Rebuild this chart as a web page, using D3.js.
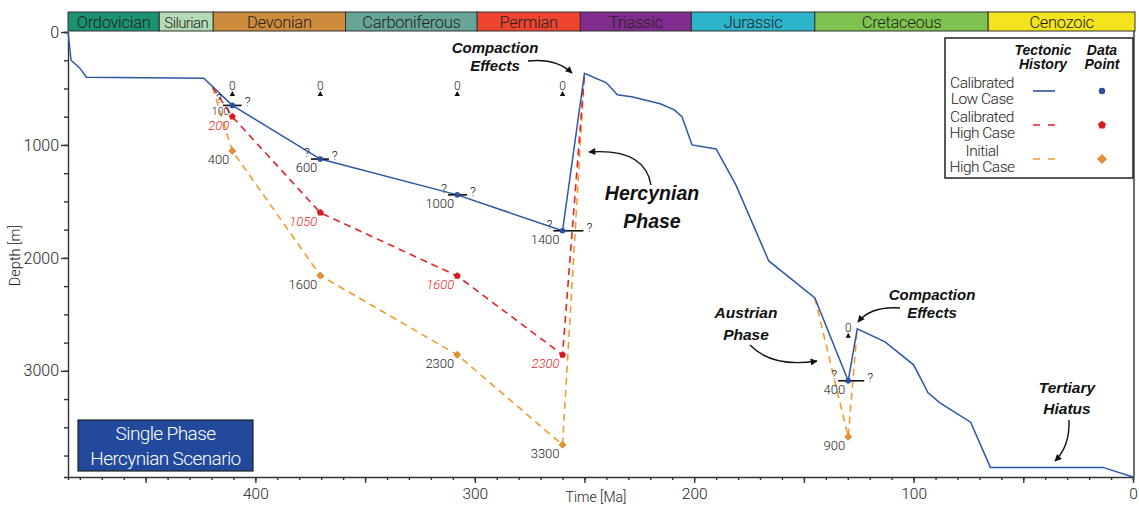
<!DOCTYPE html>
<html>
<head>
<meta charset="utf-8">
<script src="https://cdn.jsdelivr.net/npm/d3@7"></script>
<style>
    body { margin: 0; background: #fff; }
    text { font-family: Roboto, 'Liberation Sans', sans-serif; font-weight: 300; fill: #222; }
    .note { font-family: 'Liberation Sans', Arial, sans-serif; font-weight: bold; font-style: italic; fill: #111; }
</style>
</head>
<body>
<div class="canvas"></div>
<script>
// geological time scale (Ma)
const periods = ['Ordovician', 'Silurian', 'Devonian', 'Carboniferous', 'Permian', 'Triassic', 'Jurassic', 'Cretaceous', 'Cenozoic'];
const periodStart = [485.4, 443.8, 419.2, 358.9, 298.9, 251.9, 201.3, 145, 66];
const periodEnd = [443.8, 419.2, 358.9, 298.9, 251.9, 201.3, 145, 66, 0];
const periodColors = ['#1b9372', '#b4dbb5', '#cd8c3b', '#67a598', '#ee4430', '#812b8f', '#2cb4cb', '#7fc24f', '#f3e41e'];

// calibrated low case: burial history
const lowAge = [485.4, 484, 480, 477, 423.5, 410.5, 370.4, 308, 260, 250, 240, 235, 228, 215.5, 209, 205.5, 201, 190, 181, 166, 145, 129.8, 125.7, 113, 100, 93.4, 88, 74, 65, 13.7, 0];
const lowDepth = [0, 250, 320, 400, 410, 650, 1125, 1442, 1760, 365, 450, 555, 575, 636, 690, 752, 1000, 1035, 1354, 2027, 2355, 3088, 2628, 2743, 2947, 3195, 3283, 3455, 3855, 3855, 3940];

// calibrated high case (Hercynian erosion)
const highAge = [419.5, 410.5, 370.4, 308, 260, 250];
const highDepth = [490, 750, 1600, 2160, 2858, 365];

// initial high case (Hercynian + Austrian erosion)
const initAge = [419.5, 410.5, 370.4, 308, 260, 250];
const initDepth = [490, 1053, 2156, 2858, 3655, 365];
const initAustrianAge = [145, 129.8, 125.7];
const initAustrianDepth = [2355, 3584, 2628];

// data points
const lowPointAge = [410.5, 370.4, 308, 260, 129.8];
const lowPointDepth = [650, 1125, 1442, 1760, 3088];
const lowPointLabel = ['100', '600', '1000', '1400', '400'];
const errOlder = [4.3, 4.3, 4.2, 4.2, 4.6];
const errYounger = [4.3, 3.9, 4.5, 9.5, 7.3];

const highPointAge = [410.5, 370.4, 308, 260];
const highPointDepth = [750, 1600, 2160, 2858];
const highPointLabel = ['200', '1050', '1600', '2300'];

const initPointAge = [410.5, 370.4, 308, 260, 129.8];
const initPointDepth = [1053, 2156, 2858, 3655, 3584];
const initPointLabel = ['400', '1600', '2300', '3300', '900'];

// surface markers
const zeroAge = [410.5, 370.4, 308, 260, 129.8];
const zeroDepth = [566, 566, 566, 566, 2708];

const xMajor = [450, 400, 350, 300, 250, 200, 150, 100, 50, 0];
const xLabels = [400, 300, 200, 100, 0];
const yLabels = [0, 1000, 2000, 3000];

const blue = '#2c56a6', red = '#e2232a', orange = '#f29b2e';
const ink = '#222';

const svg = d3.select('.canvas')
    .append('svg')
    .attr('width', 1139)
    .attr('height', 507);

const margin = { top: 32, right: 6, bottom: 30, left: 68 };
const graphWidth = 1139 - margin.left - margin.right;
const graphHeight = 507 - margin.top - margin.bottom;

const graph = svg.append('g')
    .attr('transform', `translate(${margin.left}, ${margin.top})`);

const x = d3.scaleLinear().domain([485.4, 0]).range([0, graphWidth]);
const y = d3.scaleLinear().domain([0, 3940]).range([0, graphHeight]);

// arrow head
svg.append('defs').append('marker')
    .attr('id', 'head')
    .attr('viewBox', '0 0 10 10')
    .attr('refX', 9).attr('refY', 5)
    .attr('markerWidth', 10).attr('markerHeight', 7)
    .attr('markerUnits', 'userSpaceOnUse')
    .attr('orient', 'auto')
    .append('path')
    .attr('d', 'M0,0 L10,5 L0,10 Z')
    .attr('fill', '#111');

// period bar
const bar = graph.append('g').attr('transform', 'translate(0, -20)');
periods.forEach((p, i) => {
    const x0 = x(periodStart[i]);
    const x1 = i === periods.length - 1 ? graphWidth + 2 : x(periodEnd[i]);
    bar.append('rect')
        .attr('x', x0).attr('y', 0)
        .attr('width', x1 - x0).attr('height', 19)
        .attr('fill', periodColors[i])
        .attr('stroke', '#333').attr('stroke-width', 1);
    bar.append('text')
        .attr('x', (x0 + x1) / 2).attr('y', 15.5)
        .attr('text-anchor', 'middle')
        .attr('font-size', p === 'Silurian' ? 15 : 16.5)
        .attr('letter-spacing', p === 'Silurian' ? -0.6 : -0.3)
        .style('fill', ink)
        .text(p);
});

// axes
const xAxisGroup = graph.append('g').attr('transform', `translate(0, ${graphHeight})`);
xAxisGroup.call(d3.axisBottom(x).tickValues(d3.range(480, -1, -10)).tickSize(3).tickFormat(''));
xAxisGroup.append('g').call(d3.axisBottom(x).tickValues(xMajor).tickSize(6).tickFormat(''))
    .select('.domain').remove();
xAxisGroup.append('g').call(d3.axisBottom(x).tickValues(xLabels).tickSize(0).tickPadding(11))
    .call(g => g.select('.domain').remove())
    .selectAll('text').attr('font-size', 15.5).attr('font-family', null).style('fill', ink);
xAxisGroup.selectAll('.domain, line').attr('stroke', '#333').attr('stroke-width', 1.4);

const yAxisGroup = graph.append('g');
yAxisGroup.call(d3.axisLeft(y).tickValues(d3.range(0, 3940, 250)).tickSize(4).tickFormat(''));
yAxisGroup.append('g').call(d3.axisLeft(y).tickValues(yLabels).tickSize(7).tickPadding(2).tickFormat(d3.format('d')))
    .call(g => g.select('.domain').remove())
    .selectAll('text').attr('font-size', 16).attr('font-family', null).style('fill', ink);
yAxisGroup.selectAll('.domain, line').attr('stroke', '#333').attr('stroke-width', 1.4);

// right frame
graph.append('line')
    .attr('x1', graphWidth + 1).attr('x2', graphWidth + 1)
    .attr('y1', -1).attr('y2', graphHeight)
    .attr('stroke', '#333').attr('stroke-width', 1.4);

// axis titles
graph.append('text')
    .attr('transform', `translate(-48, ${y(1980)}) rotate(-90)`)
    .attr('text-anchor', 'middle')
    .attr('font-size', 14.5)
    .style('fill', ink)
    .text('Depth [m]');
graph.append('text')
    .attr('x', 528).attr('y', graphHeight + 25)
    .attr('text-anchor', 'middle')
    .attr('font-size', 14)
    .style('fill', ink)
    .text('Time [Ma]');

// burial curves
const line = d3.line().x(d => x(d[0])).y(d => y(d[1]));
const path = (ages, depths) => ages.map((a, i) => [a, depths[i]]);

graph.append('path')
    .attr('d', line(path(initAge, initDepth)))
    .attr('fill', 'none').attr('stroke', orange).attr('stroke-width', 1.6)
    .attr('stroke-dasharray', '7,5');
graph.append('path')
    .attr('d', line(path(initAustrianAge, initAustrianDepth)))
    .attr('fill', 'none').attr('stroke', orange).attr('stroke-width', 1.6)
    .attr('stroke-dasharray', '7,5');
graph.append('path')
    .attr('d', line(path(highAge, highDepth)))
    .attr('fill', 'none').attr('stroke', red).attr('stroke-width', 1.6)
    .attr('stroke-dasharray', '7,5');
graph.append('path')
    .attr('d', line(path(lowAge, lowDepth)))
    .attr('fill', 'none').attr('stroke', blue).attr('stroke-width', 1.5);

// surface markers
zeroAge.forEach((a, i) => {
    const px = x(a), py = y(zeroDepth[i]);
    graph.append('path')
        .attr('d', `M${px - 2.7},${py} L${px + 2.7},${py} L${px},${py - 5} Z`)
        .attr('fill', '#111');
    graph.append('text')
        .attr('x', px).attr('y', py - 6)
        .attr('text-anchor', 'middle')
        .attr('font-size', 12)
        .style('fill', ink)
        .text('0');
});

// error bars on low case points
lowPointAge.forEach((a, i) => {
    const py = y(lowPointDepth[i]);
    const xl = x(a + errOlder[i]), xr = x(a - errYounger[i]);
    graph.append('line')
        .attr('x1', xl).attr('x2', xr).attr('y1', py).attr('y2', py)
        .attr('stroke', '#111').attr('stroke-width', 1.6);
    graph.append('text')
        .attr('x', xl - 1).attr('y', py - 2)
        .attr('text-anchor', 'end').attr('font-size', 13)
        .style('fill', ink)
        .text('?');
    graph.append('text')
        .attr('x', xr + 3).attr('y', py + 1)
        .attr('font-size', 13)
        .style('fill', ink)
        .text('?');
});

// points
const pentagon = r => d3.range(5).map(k => {
    const t = -Math.PI / 2 + k * 2 * Math.PI / 5;
    return [r * Math.cos(t), r * Math.sin(t)];
});

graph.selectAll('.init-pt')
    .data(initPointAge)
    .enter()
    .append('path')
    .attr('transform', (d, i) => `translate(${x(d)}, ${y(initPointDepth[i])}) rotate(45)`)
    .attr('d', d3.symbol(d3.symbolSquare, 24))
    .attr('fill', '#e8922c').attr('stroke', '#a8651c').attr('stroke-width', 0.6);

graph.selectAll('.high-pt')
    .data(highPointAge)
    .enter()
    .append('path')
    .attr('transform', (d, i) => `translate(${x(d)}, ${y(highPointDepth[i])})`)
    .attr('d', 'M' + pentagon(3.6).join('L') + 'Z')
    .attr('fill', '#d81920');

graph.selectAll('.low-pt')
    .data(lowPointAge)
    .enter()
    .append('circle')
    .attr('cx', d => x(d))
    .attr('cy', (d, i) => y(lowPointDepth[i]))
    .attr('r', 2.8)
    .attr('fill', '#2a4f9e');

// point labels
const addLabels = (ages, depths, labels, color, italic) => {
    ages.forEach((a, i) => {
        const small = labels[i] === '100';
        graph.append('text')
            .attr('x', x(a) - 3)
            .attr('y', y(depths[i]) + (small ? 9.5 : 13))
            .attr('text-anchor', 'end')
            .attr('font-size', small ? 10.5 : 13)
            .attr('font-style', italic ? 'italic' : null)
            .style('fill', color)
            .text(labels[i]);
    });
};
addLabels(lowPointAge, lowPointDepth, lowPointLabel, ink, false);
addLabels(highPointAge, highPointDepth, highPointLabel, '#e0262b', true);
addLabels(initPointAge, initPointDepth, initPointLabel, ink, false);

// annotations
const notes = [
    { lines: ['Compaction', 'Effects'], x: 495, y: 53, size: 15, gap: 18 },
    { lines: ['Hercynian', 'Phase'], x: 652, y: 200, size: 19.5, gap: 28 },
    { lines: ['Austrian', 'Phase'], x: 746, y: 318, size: 15.5, gap: 22 },
    { lines: ['Compaction', 'Effects'], x: 932, y: 300, size: 15, gap: 18 },
    { lines: ['Tertiary', 'Hiatus'], x: 1067, y: 393, size: 15.5, gap: 21 }
];
notes.forEach(n => {
    const t = svg.append('text').attr('class', 'note')
        .attr('text-anchor', 'middle')
        .attr('font-size', n.size);
    n.lines.forEach((l, i) => {
        t.append('tspan').attr('x', n.x).attr('y', n.y + i * n.gap).text(l);
    });
});

const arrows = [
    'M528,61 Q556,58 572,73',
    'M651,185 Q645,148 589,152',
    'M750,345 Q772,368 817,361',
    'M900,308 Q871,306 858,322',
    'M1069,420 Q1070,446 1055,461'
];
arrows.forEach(d => {
    svg.append('path')
        .attr('d', d)
        .attr('fill', 'none')
        .attr('stroke', '#111').attr('stroke-width', 1.4)
        .attr('marker-end', 'url(#head)');
});

// scenario box
svg.append('rect')
    .attr('x', 78).attr('y', 420).attr('width', 175).attr('height', 51)
    .attr('fill', '#22499b').attr('stroke', '#222').attr('stroke-width', 1.2);
svg.append('text')
    .attr('x', 165.5).attr('y', 440)
    .attr('text-anchor', 'middle').attr('font-size', 19)
    .attr('letter-spacing', -0.6)
    .style('fill', '#fff')
    .text('Single Phase');
svg.append('text')
    .attr('x', 165.5).attr('y', 465)
    .attr('text-anchor', 'middle').attr('font-size', 19)
    .attr('letter-spacing', -0.6)
    .style('fill', '#fff')
    .text('Hercynian Scenario');

// legend
const legend = svg.append('g');
legend.append('rect')
    .attr('x', 945).attr('y', 38).attr('width', 188).attr('height', 140)
    .attr('fill', '#fff').attr('stroke', '#222').attr('stroke-width', 1.5);
[['Tectonic', 'History', 1043], ['Data', 'Point', 1102]].forEach(h => {
    legend.append('text').attr('class', 'note').attr('x', h[2]).attr('y', 55)
        .attr('text-anchor', 'middle').attr('font-size', 14).text(h[0]);
    legend.append('text').attr('class', 'note').attr('x', h[2]).attr('y', 69)
        .attr('text-anchor', 'middle').attr('font-size', 14).text(h[1]);
});
const legendRows = [
    { lines: ['Calibrated', 'Low Case'], y: 91, color: blue, dash: null },
    { lines: ['Calibrated', 'High Case'], y: 125, color: red, dash: '7,8' },
    { lines: ['Initial', 'High Case'], y: 159, color: orange, dash: '7,8' }
];
legendRows.forEach((r, i) => {
    legend.append('text').attr('x', 982).attr('y', r.y - 3)
        .attr('text-anchor', 'middle').attr('font-size', 15.5).attr('letter-spacing', -0.5)
        .style('fill', ink)
        .text(r.lines[0]);
    legend.append('text').attr('x', 982).attr('y', r.y + 13)
        .attr('text-anchor', 'middle').attr('font-size', 15.5).attr('letter-spacing', -0.5)
        .style('fill', ink)
        .text(r.lines[1]);
    legend.append('line')
        .attr('x1', 1033).attr('x2', 1055).attr('y1', r.y).attr('y2', r.y)
        .attr('stroke', r.color).attr('stroke-width', 1.6)
        .attr('stroke-dasharray', r.dash);
    const m = legend.append('path');
    if (i === 0) m.attr('transform', `translate(1102, ${r.y})`)
        .attr('d', d3.symbol(d3.symbolCircle, 32)).attr('fill', '#2a4f9e');
    if (i === 1) m.attr('transform', `translate(1102, ${r.y})`)
        .attr('d', 'M' + pentagon(4.2).join('L') + 'Z').attr('fill', '#d81920');
    if (i === 2) m.attr('transform', `translate(1102, ${r.y}) rotate(45)`)
        .attr('d', d3.symbol(d3.symbolSquare, 40)).attr('fill', '#e8922c')
        .attr('stroke', '#a8651c').attr('stroke-width', 0.6);
});
</script>
</body>
</html>
